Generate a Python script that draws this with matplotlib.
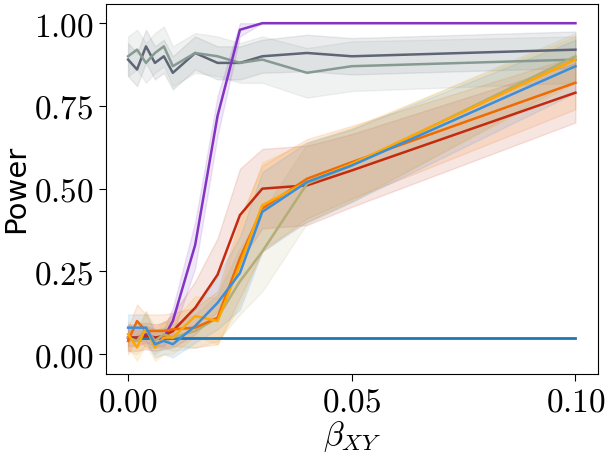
import numpy as np
import matplotlib
matplotlib.use("Agg")
import matplotlib.pyplot as plt

plt.rcParams['mathtext.fontset'] = 'cm'

# effect sizes on the x axis
beta_xy = [0, 0.002, 0.004, 0.006, 0.008, 0.01, 0.015, 0.02, 0.025, 0.03, 0.04, 0.05, 0.1]

# mean power per method
power_gray = [0.89, 0.86, 0.93, 0.88, 0.90, 0.85, 0.91, 0.88, 0.88, 0.90, 0.91, 0.90, 0.92]
power_sage = [0.90, 0.92, 0.88, 0.91, 0.93, 0.87, 0.91, 0.90, 0.88, 0.89, 0.85, 0.87, 0.89]
power_purple = [0.05, 0.05, 0.06, 0.05, 0.05, 0.10, 0.33, 0.72, 0.98, 1.0, 1.0, 1.0, 1.0]
power_red = [0.05, 0.05, 0.055, 0.05, 0.055, 0.07, 0.14, 0.24, 0.42, 0.50, 0.51, 0.555, 0.79]
power_orange = [0.04, 0.10, 0.07, 0.07, 0.07, 0.075, 0.08, 0.11, 0.29, 0.44, 0.53, 0.58, 0.82]
power_yellow = [0.06, 0.02, 0.08, 0.02, 0.05, 0.05, 0.115, 0.10, 0.27, 0.45, 0.52, 0.575, 0.89]
power_blue = [0.08, 0.08, 0.08, 0.03, 0.04, 0.03, 0.085, 0.155, 0.245, 0.43, 0.52, 0.57, 0.87]
power_olive = [0.05, 0.04, 0.08, 0.04, 0.06, 0.05, 0.07, 0.11, 0.22, 0.31, 0.515, 0.57, 0.90]

# half widths of the shaded bands
err_gray = [0.05, 0.05, 0.05, 0.05, 0.05, 0.05, 0.05, 0.05, 0.05, 0.05, 0.055, 0.055, 0.055]
err_sage = [0.06, 0.06, 0.06, 0.06, 0.06, 0.06, 0.06, 0.06, 0.06, 0.07, 0.075, 0.075, 0.07]
err_purple = [0.025, 0.025, 0.025, 0.025, 0.025, 0.04, 0.07, 0.06, 0.02, 0.0, 0.0, 0.0, 0.0]
err_red = [0.04, 0.04, 0.04, 0.04, 0.04, 0.05, 0.08, 0.11, 0.14, 0.12, 0.12, 0.11, 0.09]
err_orange = [0.04, 0.05, 0.05, 0.05, 0.05, 0.05, 0.06, 0.08, 0.12, 0.13, 0.12, 0.11, 0.08]
err_yellow = [0.04, 0.04, 0.05, 0.04, 0.05, 0.05, 0.06, 0.07, 0.12, 0.13, 0.12, 0.11, 0.07]
err_blue = [0.04, 0.04, 0.04, 0.04, 0.04, 0.04, 0.05, 0.08, 0.11, 0.12, 0.12, 0.11, 0.08]
err_olive = [0.04, 0.04, 0.05, 0.04, 0.04, 0.04, 0.05, 0.07, 0.10, 0.12, 0.12, 0.11, 0.07]

alpha_level = 0.05

series = [
    (power_gray, err_gray, '#5f6577'),
    (power_sage, err_sage, '#879a92'),
    (power_purple, err_purple, '#8334c4'),
    (power_red, err_red, '#c32a0e'),
    (power_olive, err_olive, '#b3ad78'),
    (power_orange, err_orange, '#f06a00'),
    (power_yellow, err_yellow, '#ffa600'),
    (power_blue, err_blue, '#3a8fdc'),
]

fig = plt.figure(figsize=(6.1, 4.53), dpi=100)
ax = fig.add_axes([0.1733, 0.1744, 0.8067, 0.8168])

x = np.array(beta_xy)
ax.plot([x[0], x[-1]], [alpha_level, alpha_level], color='#1f77b4', lw=2.0, zorder=2)

for power, err, color in series:
    p = np.array(power)
    e = np.array(err)
    ax.fill_between(x, p - e, p + e, color=color, alpha=0.12, lw=1, zorder=1)
    ax.plot(x, p, color=color, lw=1.8, zorder=3)

ax.set_xlim(-0.005, 0.105)
ax.set_ylim(-0.06, 1.058)
ax.set_xticks([0, 0.05, 0.1])
ax.set_xticklabels(['$0.00$', '$0.05$', '$0.10$'])
ax.set_yticks([0, 0.25, 0.5, 0.75, 1.0])
ax.set_yticklabels(['$0.00$', '$0.25$', '$0.50$', '$0.75$', '$1.00$'])
ax.tick_params(labelsize=24, length=5)
ax.set_xlabel(r'$\beta_{XY}$', fontsize=24, labelpad=0)
ax.set_ylabel('Power', fontsize=21, labelpad=3)

fig.savefig('out.png', dpi=100)
